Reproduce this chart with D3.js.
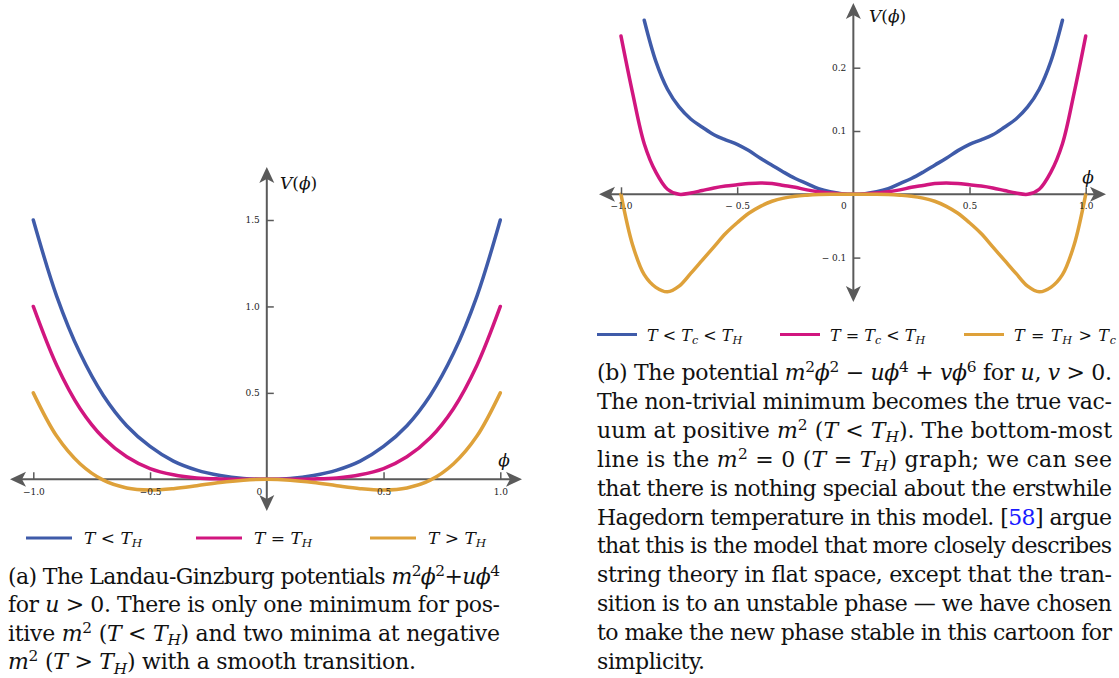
<!DOCTYPE html>
<html>
<head>
<meta charset="utf-8">
<script src="https://cdn.jsdelivr.net/npm/d3@7"></script>
<style>
body { margin: 0; background: #fff; }
svg { display: block; }
</style>
</head>
<body>
<svg></svg>
<script>
const width = 1119;
const height = 678;
const serif = "'DejaVu Serif', 'Liberation Serif', 'Times New Roman', Times, serif";

// panel (a): m^2 phi^2 + u phi^4
const leftPhi = [-1.0, -0.9, -0.8, -0.7, -0.6, -0.5, -0.4, -0.3, -0.2, -0.1, 0,
    0.1, 0.2, 0.3, 0.4, 0.5, 0.6, 0.7, 0.8, 0.9, 1.0];
const leftBlue = [1.5, 1.06, 0.73, 0.485, 0.31, 0.19, 0.105, 0.053, 0.022, 0.005, 0,
    0.005, 0.022, 0.053, 0.105, 0.19, 0.31, 0.485, 0.73, 1.06, 1.5];
const leftPink = [1.0, 0.66, 0.41, 0.24, 0.13, 0.062, 0.026, 0.008, 0.002, 0.0, 0,
    0.0, 0.002, 0.008, 0.026, 0.062, 0.13, 0.24, 0.41, 0.66, 1.0];
const leftOrange = [0.5, 0.25, 0.09, -0.005, -0.05, -0.062, -0.054, -0.037, -0.018, -0.005, 0,
    -0.005, -0.018, -0.037, -0.054, -0.062, -0.05, -0.005, 0.09, 0.25, 0.5];
const leftXTicks = [-1, -0.5, 0, 0.5, 1];
const leftXLabels = ['\u22121.0', '\u22120.5', '0', '0.5', '1.0'];
const leftYTicks = [0.5, 1, 1.5];
const leftYLabels = ['0.5', '1.0', '1.5'];
const leftLegend = ['*T* < *T*_H', '*T* = *T*_H', '*T* > *T*_H'];

// panel (b): m^2 phi^2 - u phi^4 + v phi^6
const rightPhi = [-1.0, -0.95, -0.9, -0.85, -0.8, -0.75, -0.7, -0.65, -0.6, -0.55, -0.5,
    -0.45, -0.4, -0.35, -0.3, -0.25, -0.2, -0.15, -0.1, -0.05, 0,
    0.05, 0.1, 0.15, 0.2, 0.25, 0.3, 0.35, 0.4, 0.45, 0.5,
    0.55, 0.6, 0.65, 0.7, 0.75, 0.8, 0.85, 0.9, 0.95, 1.0];
const rightBlue = [null, null, 0.275, 0.21, 0.166, 0.138, 0.119, 0.106, 0.094, 0.086, 0.079,
    0.069, 0.057, 0.046, 0.035, 0.025, 0.017, 0.009, 0.004, 0.001, 0,
    0.001, 0.004, 0.009, 0.017, 0.025, 0.035, 0.046, 0.057, 0.069, 0.079,
    0.086, 0.094, 0.106, 0.119, 0.138, 0.166, 0.21, 0.275, null, null];
const rightPink = [0.25, 0.16, 0.08, 0.035, 0.008, 0.0, 0.002, 0.006, 0.010, 0.013, 0.015,
    0.017, 0.018, 0.017, 0.014, 0.011, 0.007, 0.004, 0.002, 0.0005, 0,
    0.0005, 0.002, 0.004, 0.007, 0.011, 0.014, 0.017, 0.018, 0.017, 0.015,
    0.013, 0.010, 0.006, 0.002, 0.0, 0.008, 0.035, 0.08, 0.16, 0.25];
const rightOrange = [0, -0.08, -0.127, -0.147, -0.154, -0.145, -0.125, -0.104, -0.083, -0.062, -0.045,
    -0.030, -0.019, -0.011, -0.006, -0.003, -0.0015, -0.0005, 0, 0, 0,
    0, 0, -0.0005, -0.0015, -0.003, -0.006, -0.011, -0.019, -0.030, -0.045,
    -0.062, -0.083, -0.104, -0.125, -0.145, -0.154, -0.147, -0.127, -0.08, 0];
const rightXTicks = [-1, -0.5, 0, 0.5, 1];
const rightXLabels = ['\u22121.0', '\u2212 0.5', '0', '0.5', '1.0'];
const rightYTicks = [-0.1, 0.1, 0.2];
const rightYLabels = ['\u2212 0.1', '0.1', '0.2'];
const rightLegend = ['*T* < *T*_c < *T*_H', '*T* = *T*_c < *T*_H', '*T* = *T*_H > *T*_c'];

const leftCaption = [
    '(a) The Landau-Ginzburg potentials *m*^2*\u03d5*^2+*u\u03d5*^4',
    'for *u* > 0. There is only one minimum for pos-',
    'itive *m*^2 (*T* < *T*_H) and two minima at negative',
    '*m*^2 (*T* > *T*_H) with a smooth transition.'
];
const rightCaption = [
    '(b) The potential *m*^2*\u03d5*^2 \u2212 *u\u03d5*^4 + *v\u03d5*^6 for *u*, *v* > 0.',
    'The non-trivial minimum becomes the true vac-',
    'uum at positive *m*^2 (*T* < *T*_H). The bottom-most',
    'line is the *m*^2 = 0 (*T* = *T*_H) graph; we can see',
    'that there is nothing special about the erstwhile',
    'Hagedorn temperature in this model. [#58#] argue',
    'that this is the model that more closely describes',
    'string theory in flat space, except that the tran-',
    'sition is to an unstable phase \u2014 we have chosen',
    'to make the new phase stable in this cartoon for',
    'simplicity.'
];

const colors = ['#3f5ba9', '#d1167f', '#dea13a'];
const axisColor = '#5a5a5a';

const svg = d3.select('svg')
    .attr('width', width)
    .attr('height', height)
    .style('font-family', serif);

// tiny markup: *..* italic, ^x superscript, _x italic subscript, #..# link colour
function richText(parent, str, x, y, size, length) {
    const runs = [];
    let it = false, link = false;
    let cur = { t: '', it, sh: 0, small: false, link };
    const flush = () => { if (cur.t) runs.push(cur); cur = { t: '', it, sh: 0, small: false, link }; };
    for (let i = 0; i < str.length; i++) {
        const ch = str[i];
        if (ch === '*') { flush(); it = !it; cur.it = it; }
        else if (ch === '#') { flush(); link = !link; cur.link = link; }
        else if (ch === '^' || ch === '_') {
            flush();
            runs.push({ t: str[i + 1], it: ch === '_' ? true : it, sh: ch === '^' ? -0.36 * size : 0.2 * size, small: true, link });
            i++;
        } else cur.t += ch;
    }
    flush();
    const text = parent.append('text')
        .attr('x', x)
        .attr('y', y)
        .style('font-family', serif)
        .style('font-size', size + 'px')
        .style('fill', '#111');
    if (length) text.attr('textLength', length).attr('lengthAdjust', 'spacing');
    let prev = 0;
    for (const r of runs) {
        text.append('tspan')
            .attr('dy', r.sh - prev)
            .style('font-style', r.it ? 'italic' : 'normal')
            .style('font-size', r.small ? (size * 0.7) + 'px' : null)
            .style('fill', r.link ? '#1a1aff' : null)
            .text(r.t);
        prev = r.sh;
    }
    return text;
}

function arrowHead(g, x, y, angle) {
    g.append('path')
        .attr('d', 'M0,0 L7.5,16 L0,12 L-7.5,16 Z')
        .attr('transform', `translate(${x},${y}) rotate(${angle})`)
        .attr('fill', axisColor);
}

function drawPanel(o) {
    const g = svg.append('g');
    const x0 = o.x(0);
    const y0 = o.y(0);

    // axis lines with arrows
    g.append('line').attr('x1', o.ends.left + 10).attr('x2', o.ends.right - 10)
        .attr('y1', y0).attr('y2', y0)
        .attr('stroke', axisColor).attr('stroke-width', 2);
    g.append('line').attr('y1', o.ends.top + 10).attr('y2', o.ends.bottom - 10)
        .attr('x1', x0).attr('x2', x0)
        .attr('stroke', axisColor).attr('stroke-width', 2);
    arrowHead(g, o.ends.left, y0, -90);
    arrowHead(g, o.ends.right, y0, 90);
    arrowHead(g, x0, o.ends.top, 0);
    arrowHead(g, x0, o.ends.bottom, 180);

    // curves
    const line = d3.line()
        .defined(d => d[1] !== null)
        .x(d => o.x(d[0]))
        .y(d => o.y(d[1]))
        .curve(d3.curveCatmullRom.alpha(0.5));
    o.series.forEach((vals, i) => {
        g.append('path')
            .datum(o.phi.map((p, j) => [p, vals[j]]))
            .attr('d', line)
            .attr('fill', 'none')
            .attr('stroke', colors[i])
            .attr('stroke-width', 3.5)
            .attr('stroke-linecap', 'round');
    });

    // ticks
    const gx = g.append('g')
        .attr('transform', `translate(0,${y0})`)
        .call(d3.axisBottom(o.x)
            .tickValues(o.xTicks)
            .tickFormat((d, i) => o.xLabels[i])
            .tickSizeInner(-7)
            .tickSizeOuter(0)
            .tickPadding(o.xPad));
    gx.select('.domain').remove();
    gx.selectAll('.tick').filter(d => d === 0).select('line').remove();
    gx.selectAll('.tick').filter(d => d === 0).select('text').attr('dx', o.zeroDx);

    const gy = g.append('g')
        .attr('transform', `translate(${x0},0)`)
        .call(d3.axisLeft(o.y)
            .tickValues(o.yTicks)
            .tickFormat((d, i) => o.yLabels[i])
            .tickSizeInner(-7)
            .tickSizeOuter(0)
            .tickPadding(7));
    gy.select('.domain').remove();

    for (const a of [gx, gy]) {
        a.attr('font-family', null).attr('font-size', null);
        a.selectAll('.tick line').attr('stroke', axisColor).attr('stroke-width', 1.5);
        a.selectAll('.tick text')
            .style('font-family', serif)
            .style('font-size', '9px')
            .attr('fill', '#222');
    }

    // axis titles
    richText(g, '*V*(*\u03d5*)', o.vLabel[0], o.vLabel[1], 17);
    richText(g, '*\u03d5*', o.phiLabel[0], o.phiLabel[1], 17).attr('text-anchor', 'middle');

    // legend
    const lg = o.legendStyle;
    o.legend.forEach((lab, i) => {
        g.append('line')
            .attr('x1', o.legendX[i]).attr('x2', o.legendX[i] + lg.len)
            .attr('y1', o.legendY).attr('y2', o.legendY)
            .attr('stroke', colors[i]).attr('stroke-width', 3);
        richText(g, lab, o.legendX[i] + lg.gap, o.legendY + 6, lg.size, lg.widths ? lg.widths[i] : null);
    });

    // caption
    o.caption.forEach((ln, i) => {
        const last = i === o.caption.length - 1;
        richText(g, ln, o.capX, o.capY + i * o.capStep, 22, last ? o.capLast : o.capWidth);
    });
}

drawPanel({
    x: d3.scaleLinear().domain([-1, 1]).range([33.3, 500.3]),
    y: d3.scaleLinear().domain([0, 1.5]).range([479.3, 220]),
    phi: leftPhi,
    series: [leftBlue, leftPink, leftOrange],
    xTicks: leftXTicks, xLabels: leftXLabels,
    yTicks: leftYTicks, yLabels: leftYLabels,
    xPad: 9, zeroDx: -8,
    ends: { left: 10, right: 522, top: 167, bottom: 511 },
    vLabel: [280, 189], phiLabel: [504, 466],
    legend: leftLegend, legendX: [26, 196, 370], legendY: 538,
    legendStyle: { len: 46, gap: 58, size: 17 },
    caption: leftCaption, capX: 8, capY: 583.5, capStep: 28.6, capWidth: 492, capLast: 408
});

drawPanel({
    x: d3.scaleLinear().domain([-1, 1]).range([621, 1085.7]),
    y: d3.scaleLinear().domain([0, 0.2]).range([194.3, 67.7]),
    phi: rightPhi,
    series: [rightBlue, rightPink, rightOrange],
    xTicks: rightXTicks, xLabels: rightXLabels,
    yTicks: rightYTicks, yLabels: rightYLabels,
    xPad: 8, zeroDx: -10,
    ends: { left: 599, right: 1106, top: 3, bottom: 302 },
    vLabel: [869, 22], phiLabel: [1088, 183],
    legend: rightLegend, legendX: [597, 780, 964], legendY: 334.5,
    legendStyle: { len: 40, gap: 50, size: 16, widths: [null, null, 102] },
    caption: rightCaption, capX: 597, capY: 380, capStep: 28.9, capWidth: 515, capLast: 108
});
</script>
</body>
</html>
